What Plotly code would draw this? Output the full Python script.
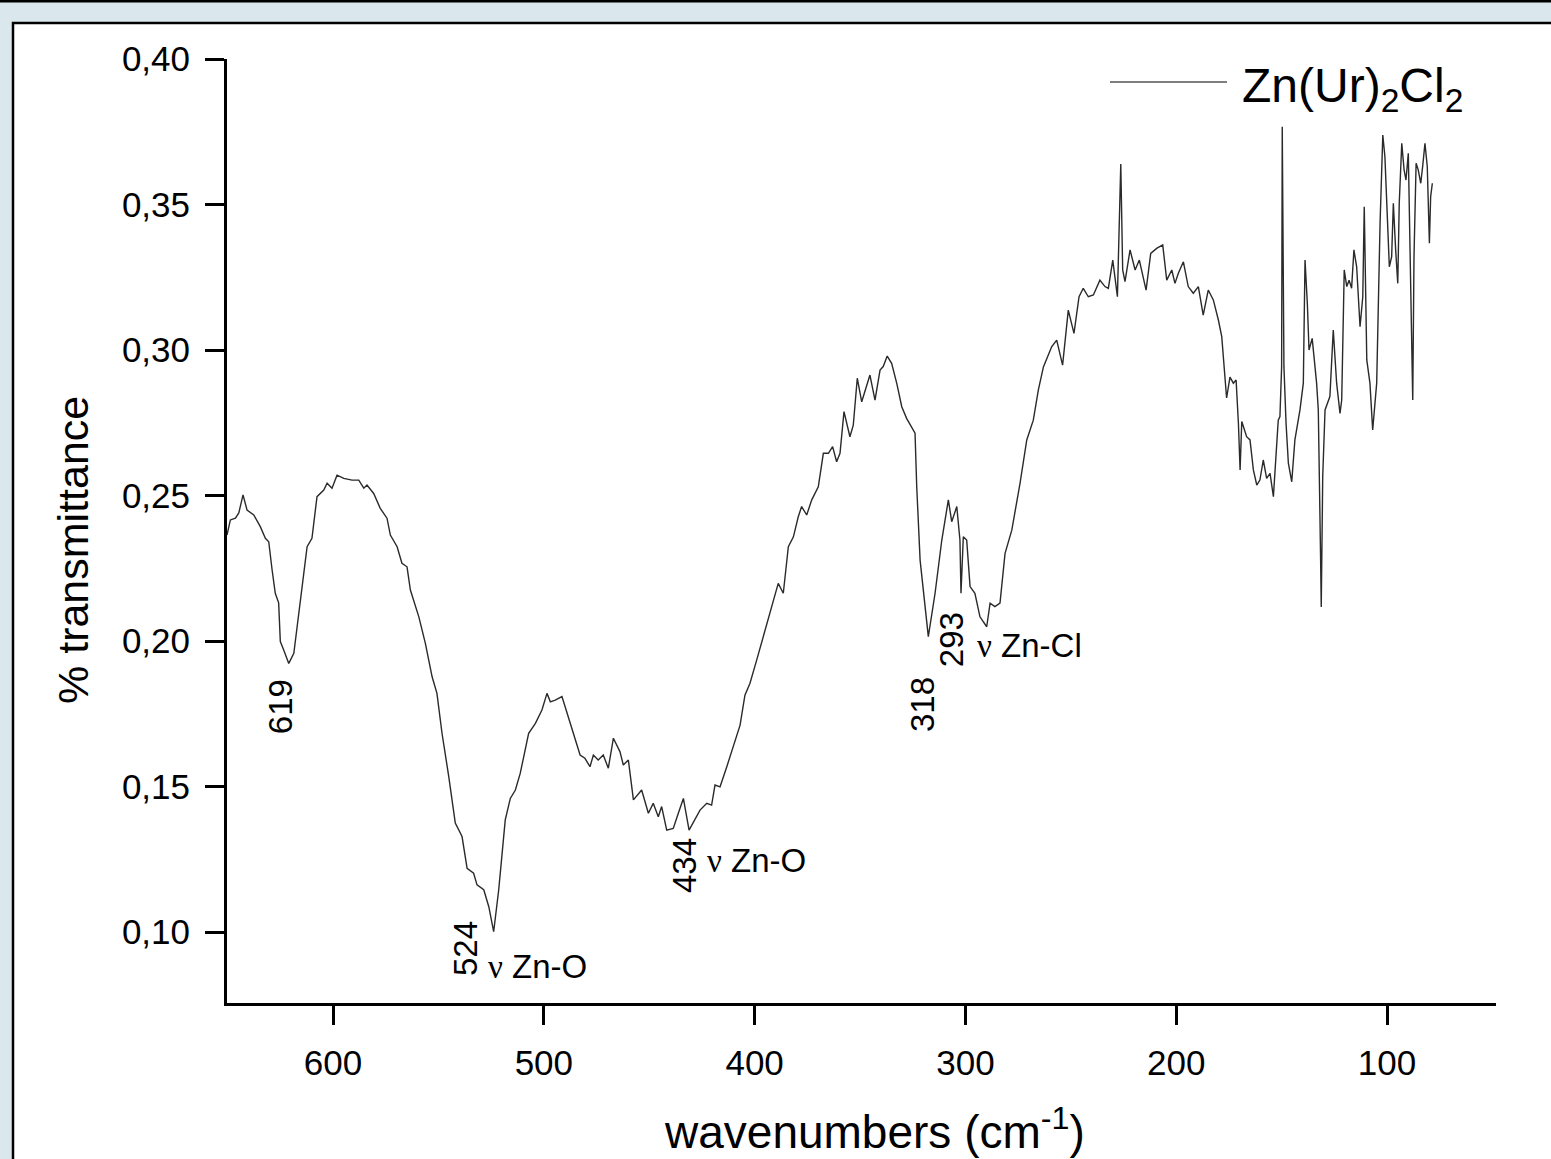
import plotly.graph_objects as go

# ---- data: Zn(Ur)2Cl2 far-IR spectrum (wavenumber cm-1, transmittance) ----
wn_a = [650.3, 648.7, 646.3, 644.7, 642.7, 640.8, 637.6, 634.5, 632.1, 630.5,
        628.9, 627.4, 625.8, 625.0, 623.4, 621.0, 618.6, 616.3, 612.3, 610.0,
        607.6, 604.4, 602.8, 600.5, 598.1, 594.9, 591.0, 587.8, 585.4, 583.9,
        580.7, 577.6, 574.4, 572.8, 569.6, 567.3, 564.9, 563.3, 559.3, 556.2,
        553.0, 550.7, 548.3, 545.1, 542.0, 538.8, 536.4, 533.3, 531.7, 528.5,
        526.1, 523.8, 521.4, 518.3, 515.9, 513.5, 511.2, 507.2, 504.0, 500.9,
        498.5, 496.9, 494.6, 491.4, 487.4, 485.1]
t_a = [0.2364, 0.2416, 0.2422, 0.2440, 0.2502, 0.2450, 0.2433, 0.2393, 0.2353, 0.2341,
       0.2244, 0.2164, 0.2131, 0.1998, 0.1969, 0.1923, 0.1958, 0.2095, 0.2324, 0.2353,
       0.2496, 0.2519, 0.2542, 0.2525, 0.2570, 0.2559, 0.2553, 0.2553, 0.2525, 0.2536,
       0.2507, 0.2456, 0.2422, 0.2364, 0.2324, 0.2267, 0.2255, 0.2175, 0.2083, 0.1992,
       0.1877, 0.1820, 0.1683, 0.1534, 0.1374, 0.1328, 0.1219, 0.1202, 0.1162, 0.1145,
       0.1087, 0.1001, 0.1145, 0.1385, 0.1459, 0.1488, 0.1545, 0.1683, 0.1717, 0.1763,
       0.1820, 0.1791, 0.1797, 0.1809, 0.1717, 0.1660]

wn_b = [482.8, 480.5, 478.1, 476.5, 474.2, 471.8, 469.4, 467.0, 463.9, 462.3,
        459.9, 457.5, 453.6, 450.4, 448.1, 445.7, 444.1, 441.7, 438.6, 436.2,
        433.8, 431.1, 428.3, 425.9, 422.7, 420.4, 418.8, 416.4, 413.2, 410.1,
        406.9, 404.6, 402.2, 399.0, 396.6, 393.5, 391.1, 388.8, 386.4, 384.0,
        381.6, 379.3, 377.7, 375.3, 372.9, 369.8, 367.4, 365.0, 363.0, 361.1,
        359.5, 357.6, 354.8, 353.2, 351.3, 349.2, 345.3, 342.9, 340.5, 339.0,
        337.1, 335.0, 332.6, 330.2, 327.9, 324.7, 323.9, 323.1, 321.5, 317.6]
t_b = [0.1608, 0.1597, 0.1568, 0.1608, 0.1591, 0.1608, 0.1563, 0.1666, 0.1620, 0.1574,
       0.1591, 0.1454, 0.1488, 0.1408, 0.1442, 0.1396, 0.1431, 0.1350, 0.1356, 0.1408,
       0.1459, 0.1350, 0.1385, 0.1419, 0.1442, 0.1436, 0.1505, 0.1499, 0.1568, 0.1637,
       0.1711, 0.1814, 0.1855, 0.1935, 0.1998, 0.2072, 0.2141, 0.2198, 0.2164, 0.2324,
       0.2358, 0.2427, 0.2462, 0.2433, 0.2485, 0.2530, 0.2645, 0.2645, 0.2668, 0.2616,
       0.2645, 0.2788, 0.2702, 0.2742, 0.2903, 0.2822, 0.2914, 0.2828, 0.2931, 0.2943,
       0.2979, 0.2954, 0.2886, 0.2805, 0.2765, 0.2725, 0.2714, 0.2530, 0.2278, 0.2015]

wn_c = [314.4, 311.2, 308.1, 306.5, 304.1, 302.6, 302.1, 301.0, 299.4, 297.8,
        295.5, 293.1, 289.9, 288.3, 286.0, 283.6, 281.2, 278.0, 274.1, 270.9,
        267.8, 265.4, 263.0, 259.1, 256.7, 253.9, 251.2, 248.5, 246.1, 244.1,
        241.7, 239.3, 236.2, 233.8, 232.2, 230.1, 227.9, 226.3, 225.4, 224.3,
        221.9, 219.5, 217.5, 214.3, 212.1, 209.3, 206.4, 204.5, 202.1, 200.6,
        199.0, 196.6, 194.3, 191.9, 189.5, 187.2, 184.8, 182.4, 180.0, 178.4,
        177.7, 176.1, 174.5, 172.9, 171.6, 170.5]
t_c = [0.2164, 0.2347, 0.2485, 0.2410, 0.2462, 0.2347, 0.2164, 0.2358, 0.2347, 0.2187,
       0.2164, 0.2083, 0.2049, 0.2130, 0.2118, 0.2130, 0.2301, 0.2381, 0.2542, 0.2691,
       0.2759, 0.2863, 0.2942, 0.3011, 0.3034, 0.2948, 0.3137, 0.3057, 0.3183, 0.3212,
       0.3183, 0.3189, 0.3240, 0.3218, 0.3212, 0.3309, 0.3183, 0.3639, 0.3275, 0.3235,
       0.3344, 0.3275, 0.3309, 0.3206, 0.3332, 0.3349, 0.3361, 0.3240, 0.3275, 0.3229,
       0.3264, 0.3303, 0.3218, 0.3195, 0.3218, 0.3120, 0.3206, 0.3172, 0.3103, 0.3046,
       0.2977, 0.2835, 0.2907, 0.2886, 0.2897, 0.2748]

wn_d = [169.7, 168.9, 166.6, 165.0, 163.4, 161.8, 160.3, 158.7, 157.1, 155.5,
        153.9, 151.6, 150.8, 150.0, 149.7, 149.2, 148.9, 147.9, 146.8, 145.2,
        143.7, 141.3, 139.7, 138.9, 137.8, 137.0, 135.5, 133.4, 132.6, 131.5,
        131.2, 130.5, 129.4, 127.1, 125.5, 123.9, 122.3, 121.5, 120.3, 119.1,
        118.0, 116.8, 115.7, 114.4, 112.8, 111.5, 110.8, 109.6, 108.1, 106.8,
        104.9, 103.3, 102.0, 101.0, 99.7, 98.9, 97.8, 97.0, 95.9, 94.9,
        94.2, 93.0, 91.9, 91.0, 89.9, 89.1, 88.3, 87.8, 87.2, 86.2,
        85.2, 84.0, 83.1, 82.0, 80.9, 79.9, 79.3, 78.5]
t_d = [0.2588, 0.2754, 0.2702, 0.2691, 0.2588, 0.2536, 0.2553, 0.2622, 0.2559, 0.2576,
       0.2496, 0.2759, 0.2771, 0.2942, 0.3767, 0.3378, 0.2942, 0.2748, 0.2611, 0.2547,
       0.2691, 0.2794, 0.2886, 0.3309, 0.3160, 0.3000, 0.3040, 0.2886, 0.2794, 0.2278,
       0.2117, 0.2565, 0.2794, 0.2840, 0.3069, 0.2886, 0.2782, 0.2828, 0.3275, 0.3218,
       0.3240, 0.3212, 0.3344, 0.3286, 0.3080, 0.3183, 0.3492, 0.2966, 0.2886, 0.2725,
       0.2886, 0.3435, 0.3739, 0.3664, 0.3447, 0.3286, 0.3321, 0.3504, 0.3344, 0.3229,
       0.3504, 0.3710, 0.3619, 0.3584, 0.3676, 0.3389, 0.3034, 0.2828, 0.3321, 0.3642,
       0.3619, 0.3573, 0.3630, 0.3710, 0.3630, 0.3367, 0.3527, 0.3573]

series_name = "Zn(Ur)<sub>2</sub>Cl<sub>2</sub>"
x_title = "wavenumbers (cm<sup>-1</sup>)"
y_title = "% transmittance"

# peak labels (wavenumber, transmittance positions of the rotated numbers)
peak_labels = ["619", "524", "434", "318", "293"]
peak_x = [625.1, 537.4, 433.0, 320.6, 306.8]
peak_y = [0.1773, 0.0945, 0.1227, 0.1780, 0.2003]
band_labels = ["ν Zn-O", "ν Zn-O", "ν Zn-Cl"]
band_x = [502.8, 398.9, 269.4]
band_y = [0.0883, 0.1244, 0.1986]

y_ticks = [0.10, 0.15, 0.20, 0.25, 0.30, 0.35, 0.40]
x_ticks = [600, 500, 400, 300, 200, 100]

wn = wn_a + wn_b + wn_c + wn_d
tr = t_a + t_b + t_c + t_d
assert len(wn) == len(tr)

FONT = "Liberation Sans, Arial, sans-serif"

fig = go.Figure()
fig.add_trace(go.Scatter(x=wn, y=tr, mode="lines", name=series_name,
                         line=dict(color="#2a2a2a", width=1.4),
                         showlegend=False))

W, H = 1551, 1159
L, R, T, B = 227, 55, 59, 156
pw, ph = W - L - R, H - T - B

def px(xp):
    return (xp - L) / pw

def py(yp):
    return (H - B - yp) / ph

shapes = [
    # white framed panel
    dict(type="rect", xref="paper", yref="paper", layer="below",
         x0=px(13), x1=px(1600), y0=py(1200), y1=py(23),
         fillcolor="white", line=dict(color="black", width=2.5)),
    # dark bar at the very top
    dict(type="rect", xref="paper", yref="paper", layer="below",
         x0=px(-10), x1=px(1600), y0=py(2.5), y1=py(-5),
         fillcolor="black", line=dict(width=0)),
    # legend line
    dict(type="line", xref="paper", yref="paper",
         x0=px(1110), x1=px(1227), y0=py(82), y1=py(82),
         line=dict(color="#555555", width=1.5)),
]

annotations = [
    dict(text=series_name, xref="paper", yref="paper", x=px(1240), y=py(89),
         xanchor="left", yanchor="middle", showarrow=False,
         font=dict(family=FONT, size=48, color="black")),
    dict(text=x_title, xref="paper", yref="paper", x=px(874), y=py(1129),
         xanchor="center", yanchor="middle", showarrow=False,
         font=dict(family=FONT, size=46, color="black")),
    dict(text=y_title, xref="paper", yref="paper", x=px(73), y=py(550),
         xanchor="center", yanchor="middle", showarrow=False, textangle=-90,
         font=dict(family=FONT, size=43, color="black")),
]
for txt, x, y in zip(peak_labels, peak_x, peak_y):
    annotations.append(dict(text=txt, x=x, y=y, xref="x", yref="y",
                            textangle=-90, showarrow=False,
                            xanchor="center", yanchor="middle",
                            font=dict(family=FONT, size=33, color="black")))
for txt, x, y in zip(band_labels, band_x, band_y):
    nu, rest = txt.split(" ", 1)
    annotations.append(dict(
        text="<span style='font-family:Liberation Serif'>" + nu + "</span> " + rest,
        x=x, y=y, xref="x", yref="y", showarrow=False,
        xanchor="center", yanchor="middle",
        font=dict(family=FONT, size=33, color="black")))

fig.update_layout(
    width=W, height=H,
    margin=dict(l=L, r=R, t=T, b=B, autoexpand=False),
    paper_bgcolor="#dae8ed",
    plot_bgcolor="rgba(0,0,0,0)",
    separators=", ",
    font=dict(family=FONT, color="black"),
    shapes=shapes,
    annotations=annotations,
    showlegend=False,
)
fig.update_xaxes(
    range=[650.3, 48.3], tickvals=x_ticks, ticks="outside", ticklen=19, tickwidth=3,
    tickcolor="black", showline=True, linewidth=3, linecolor="black",
    showgrid=False, zeroline=False, tickfont=dict(size=35),
    ticklabelstandoff=8,
)
fig.update_yaxes(
    range=[0.0756, 0.40], tickvals=y_ticks, tickformat=".2f", ticks="outside",
    ticklen=19, tickwidth=3, tickcolor="black", showline=True, linewidth=3,
    linecolor="black", showgrid=False, zeroline=False, tickfont=dict(size=35),
    ticklabelstandoff=8,
)

fig.write_html("out.html")
